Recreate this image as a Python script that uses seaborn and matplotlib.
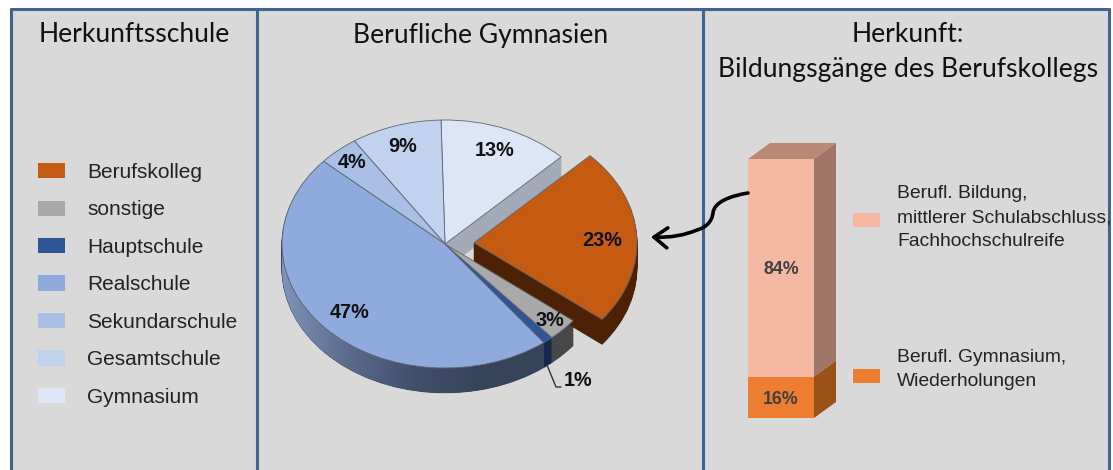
import numpy as np
import seaborn as sns
import matplotlib.pyplot as plt
from matplotlib.patches import Patch, PathPatch, Rectangle, FancyArrowPatch
from matplotlib.path import Path

# Daten
schulen = ['Berufskolleg', 'Gymnasium', 'Gesamtschule', 'Sekundarschule', 'Realschule', 'Hauptschule', 'sonstige']
anteile = [23, 13, 9, 4, 47, 1, 3]
farben = ['#c55a11', '#dce6f6', '#c1d2ee', '#a9c0e4', '#8faadc', '#2f5597', '#a9a9a9']
seiten = ['#4d2104', '#a3aab8', '#8d9ab0', '#7a8aa3', '#36445a', '#14284a', '#474747']
legende = ['Berufskolleg', 'sonstige', 'Hauptschule', 'Realschule', 'Sekundarschule', 'Gesamtschule', 'Gymnasium']

gang_namen = ['Berufl. Gymnasium,\nWiederholungen', 'Berufl. Bildung,\nmittlerer Schulabschluss,\nFachhochschulreife']
gang_werte = [16, 84]
gang_farben = ['#ed7d31', '#f4b8a3']
gang_seiten = ['#9b5118', '#9e7566']
gang_deckel = '#b88a76'

W, H = 1113, 470
RAHMEN = '#41648f'
TITEL = 'Lato'
ARIAL = 'Liberation Sans'

sns.set_theme(style='white')
fig = plt.figure(figsize=(W / 100, H / 100), dpi=100, facecolor='white')


def px_axes(x0, y0, x1, y1, z):
    a = fig.add_axes([x0 / W, 1 - y1 / H, (x1 - x0) / W, (y1 - y0) / H], zorder=z)
    a.patch.set_alpha(0)
    return a


# Hintergrund und Trennlinien
bg = px_axes(0, 0, W, H, 0)
bg.set_xlim(0, W)
bg.set_ylim(H, 0)
bg.axis('off')
bg.add_patch(Rectangle((11, 9), 1098, H, fc='#d9d9d9', ec='none'))
for x in [11, 257, 703, 1109]:
    bg.plot([x, x], [9, H], color=RAHMEN, lw=2.2)
bg.plot([11, 1109], [9, 9], color=RAHMEN, lw=2.2)

# Tortendiagramm mit Tiefe
ax = px_axes(445 - 1.2 * 163, 244 - 1.1 * 124, 445 + 1.4 * 163, 244 + 1.4 * 124, 1)
start = -38.2
explode = [0.178, 0, 0, 0, 0, 0, 0]
tiefe = 0.2
for d in np.linspace(tiefe, 0.008, 25):
    keile, _ = ax.pie(anteile, colors=seiten, startangle=start, explode=explode,
                      center=(0, -d), radius=1, normalize=True,
                      wedgeprops={'linewidth': 0.6})
    for keil, farbe in zip(keile, seiten):
        keil.set_edgecolor(farbe)
    keile[0].set_zorder(2)
    for keil in keile[1:]:
        keil.set_zorder(1)

# Verlauf auf der Aussenseite der Realschule
grenzen = start + np.cumsum([0] + anteile) * 3.6
w = np.radians(np.linspace(max(grenzen[4], 180), grenzen[5], 120))
rand = np.r_[np.c_[np.cos(w), np.sin(w)], np.c_[np.cos(w[::-1]), np.sin(w[::-1]) - tiefe]]
clip = PathPatch(Path(np.r_[rand, rand[:1]]), transform=ax.transData, fc='none', ec='none')
ax.add_patch(clip)
verlauf = sns.blend_palette(['#7f94b9', '#5a6b8c', '#414f6b', '#36445a', '#36445a'], as_cmap=True)
bild = ax.imshow(np.linspace(0, 1, 256)[None, :], cmap=verlauf, aspect='auto',
                 extent=(-1, 0.62, -1.3, 0.2), zorder=2.5)
bild.set_clip_path(clip)

keile, _ = ax.pie(anteile, colors=farben, startangle=start, explode=explode,
                  radius=1, normalize=True,
                  wedgeprops={'linewidth': 0.6, 'edgecolor': '#5f6670'})
for keil in keile:
    keil.set_zorder(3)
ax.set_aspect('auto')
ax.set_xlim(-1.2, 1.4)
ax.set_ylim(-1.4, 1.1)
ax.axis('off')

# Gestapelte Saeule
ax2 = px_axes(748, 130, 840, 418, 1)
x_pro_px = 0.8 / 66
y_pro_px = 100 / 259
dx, dy = 22 * x_pro_px, 16 * y_pro_px
unten = 0
for wert, farbe, seite in zip(gang_werte, gang_farben, gang_seiten):
    sns.barplot(x=['Herkunft'], y=[wert], bottom=unten, width=0.8, color=farbe,
                saturation=1, linewidth=0, ax=ax2)
    ax2.fill([0.4, 0.4 + dx, 0.4 + dx, 0.4],
             [unten, unten + dy, unten + wert + dy, unten + wert], color=seite, lw=0)
    unten += wert
ax2.fill([-0.4, -0.4 + dx, 0.4 + dx, 0.4], [unten, unten + dy, unten + dy, unten],
         color=gang_deckel, lw=0)
ax2.set_xlim(-0.4, -0.4 + 92 * x_pro_px)
ax2.set_ylim(0, 288 * y_pro_px)
ax2.axis('off')

# Texte, Pfeil, Legenden
top = px_axes(0, 0, W, H, 5)
top.set_xlim(0, W)
top.set_ylim(H, 0)
top.axis('off')

titel = [('Herkunftsschule', 134, 35), ('Berufliche Gymnasien', 481, 35),
         ('Herkunft:', 908, 35), ('Bildungsgänge des Berufskollegs', 908, 70)]
for txt, x, y in titel:
    top.text(x, y, txt, family=TITEL, fontsize=19.1, color='#111111', ha='center', va='center')

label_pos = [(602, 241), (495, 150), (403, 146), (352, 162), (350, 312), (578, 381), (550, 321)]
for wert, (x, y) in zip(anteile, label_pos):
    top.text(x, y, f'{wert}%', family=ARIAL, fontsize=14.3, fontweight='bold',
             color='#111111', ha='center', va='center')
top.plot([547, 556, 561], [365, 387, 387], color='#333333', lw=1)

for wert, y in zip(gang_werte, [399, 269]):
    top.text(781, y, f'{wert}%', family=ARIAL, fontsize=12.8, fontweight='bold',
             color='#404040', ha='center', va='center')

pfeil = Path([(748, 193), (730, 196), (714, 202), (713, 213), (712, 222), (705, 228), (697, 230),
              (685, 235), (670, 238), (651, 237)],
             [Path.MOVETO] + [Path.CURVE4] * 9)
top.add_patch(FancyArrowPatch(path=pfeil, arrowstyle='->,head_length=6,head_width=4.5',
                              color='black', lw=2.6, mutation_scale=1.6, shrinkA=0, shrinkB=0))

rechts = [(376, [358, 381]), (220, [194, 218, 241])]
for name, farbe, (y_box, zeilen) in zip(gang_namen, gang_farben, rechts):
    top.add_patch(Rectangle((853, y_box - 7), 27, 14, fc=farbe, ec='none'))
    for zeile, y in zip(name.split('\n'), zeilen):
        top.text(897, y, zeile, family=ARIAL, fontsize=13.9, color='#222222', va='center')

# Legende links
reihenfolge = [schulen.index(s) for s in legende]
griffe = [Patch(fc=farben[i], ec='none', label=schulen[i]) for i in reihenfolge]
leg = top.legend(handles=griffe, loc='upper left', bbox_to_anchor=(38 / W, 1 - 163 / H),
                 bbox_transform=fig.transFigure, frameon=False, borderpad=0, borderaxespad=0,
                 prop={'family': ARIAL, 'size': 15}, handlelength=1.3, handleheight=0.75,
                 handletextpad=1.07, labelspacing=0.885, labelcolor='#222222')

plt.savefig('out.png', dpi=100)
